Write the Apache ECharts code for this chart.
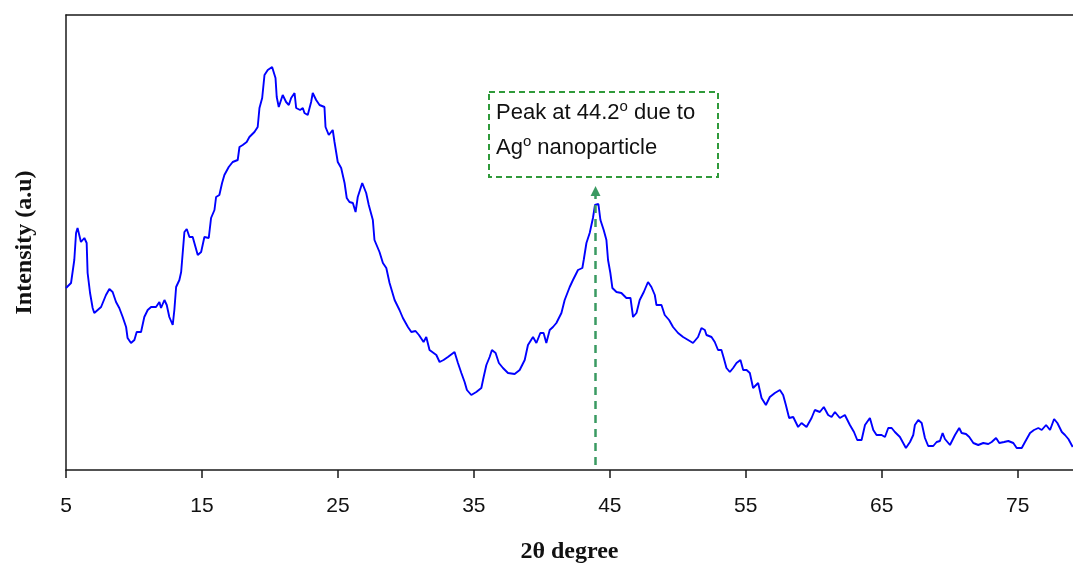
<!DOCTYPE html>
<html>
<head>
<meta charset="utf-8">
<title>XRD pattern</title>
<script src="https://cdn.jsdelivr.net/npm/echarts@6/dist/echarts.min.js"></script>
<style>
  html, body { margin: 0; padding: 0; background: #fff; }
  #chart { width: 1073px; height: 567px; }
</style>
</head>
<body>
<div id="chart"></div>
<script>
// 2θ positions (degree)
const twoTheta = [
  5.00, 5.37, 5.61, 5.74, 5.85, 6.10, 6.35, 6.52, 6.59, 6.77, 6.96, 7.08, 7.33, 7.58, 7.94, 8.19, 8.43, 8.68, 8.92, 9.17,
  9.42, 9.53, 9.78, 10.03, 10.20, 10.52, 10.76, 11.01, 11.26, 11.62, 11.87, 11.99, 12.24, 12.41, 12.60, 12.85, 12.97, 13.10, 13.34,
  13.47, 13.71, 13.88, 14.08, 14.32, 14.69, 14.94, 15.18, 15.50, 15.67, 15.92, 16.04, 16.28, 16.48, 16.65, 16.97, 17.26, 17.63, 17.76, 18.00,
  18.29, 18.49, 18.86, 19.10, 19.23, 19.43, 19.60, 19.84, 20.16, 20.41, 20.50, 20.65, 20.94, 21.19, 21.39, 21.56, 21.81, 21.93, 22.22, 22.42,
  22.54, 22.78, 23.03, 23.15, 23.40, 23.65, 24.01, 24.09, 24.33, 24.62, 24.75, 24.99, 25.24, 25.49, 25.65, 25.85, 26.10, 26.30, 26.46, 26.79,
  27.08, 27.27,
  27.57, 27.69, 28.06, 28.31, 28.56, 28.80, 29.17, 29.53, 29.78, 30.15, 30.40, 30.71, 30.96, 31.30, 31.50, 31.74, 32.24, 32.48, 32.77, 33.09,
  33.58, 33.83, 34.08, 34.32, 34.49, 34.81, 35.18, 35.55, 35.72, 35.92, 36.16, 36.33, 36.60, 36.84, 37.14, 37.51, 38.00, 38.37,
  38.74, 38.98, 39.35, 39.60, 39.89, 40.13, 40.33, 40.58, 40.82, 41.07, 41.44, 41.68, 42.05, 42.29, 42.66, 42.98, 43.08, 43.28, 43.52, 43.76,
  43.91, 44.16, 44.31, 44.55, 44.75, 44.87, 45.04, 45.19, 45.49, 45.85, 46.22, 46.52, 46.71, 46.96, 47.20, 47.50, 47.81, 48.06, 48.31, 48.43,
  48.80, 49.04, 49.36, 49.65, 50.02, 50.39, 50.76, 51.12, 51.49, 51.74, 51.99, 52.11, 52.48, 52.72,
  52.96, 53.21, 53.38, 53.58, 53.83, 54.07, 54.32, 54.61, 54.81, 55.06, 55.30, 55.54, 55.91, 56.16, 56.48, 56.77, 57.14, 57.51, 57.75, 57.95,
  58.19, 58.49, 58.85, 59.10, 59.47, 59.84, 60.08, 60.45, 60.74, 61.06, 61.31, 61.56, 61.92, 62.29, 62.66, 62.96, 63.20, 63.52, 63.77, 64.13,
  64.38, 64.62, 64.99,
  65.24, 65.48, 65.73, 65.97, 66.34, 66.58, 66.78, 67.08, 67.32, 67.44, 67.69, 67.94, 68.18, 68.42, 68.79, 69.04, 69.28, 69.48, 69.65, 70.02,
  70.39, 70.70, 70.88, 71.20, 71.44, 71.74, 72.10, 72.47, 72.84, 73.09, 73.41, 73.65, 74.00, 74.31, 74.68, 74.93, 75.30, 75.54, 75.91, 76.20,
  76.52, 76.77, 77.09, 77.38, 77.68, 77.92, 78.25, 78.48, 78.73, 79.05
]

// intensity (arbitrary units)
const intensity = [
  182, 187, 210, 237, 242, 228, 232, 227, 197, 177, 162, 157, 160, 163, 175, 181, 178, 168, 162, 153,
  143, 132, 127, 130, 138, 138, 153, 160, 163, 163, 168, 162, 170, 165, 153, 145, 160, 183, 190,
  198, 238, 241, 233, 233, 215, 218, 233, 232, 252, 260, 273, 275, 287, 295, 303, 308, 310, 323, 325,
  328, 333, 338, 343, 362, 372, 395, 400, 403, 392, 373, 363, 375, 368, 365, 372, 377, 362, 360, 362,
  357, 355, 368, 377, 370, 365, 363, 343, 335, 340, 328, 308, 302, 287, 272, 268, 267, 258, 273, 287,
  277, 265,
  250, 230, 218, 207, 202, 187, 170, 160, 152, 143, 138, 139, 135, 128, 133, 120, 115, 108, 110, 113,
  118, 107, 97, 88, 80, 75, 78, 82, 93, 105, 113, 120, 117, 107, 102, 97, 96, 100,
  110, 125, 133, 127, 137, 137, 127, 140, 143, 147, 157, 170, 183, 190, 200, 202, 210, 227, 237, 252,
  265, 266, 250, 240, 230, 210, 197, 182, 178, 177, 172, 172, 153, 157, 170, 178, 188, 183, 175, 165,
  165, 155, 150, 143, 137, 133, 130, 127, 133, 142, 140, 135, 133, 128,
  120, 120, 112, 102, 98, 102, 107, 110, 100, 100, 97, 82, 87, 72, 65, 73, 77, 80, 75, 65,
  52, 53, 43, 47, 43, 52, 60, 58, 63, 55, 53, 58, 52, 55, 45, 38, 30, 30, 45, 52,
  40, 35, 35,
  33, 42, 42, 38, 33, 27, 22, 28, 35, 45, 50, 47, 32, 24, 24, 28, 29, 37, 31, 25,
  35, 42, 37, 36, 33, 27, 25, 27, 26, 28, 32, 27, 28, 29, 27, 22, 22, 28, 37, 40,
  42, 40, 45, 40, 51, 47, 38, 35, 31, 23
]

const xTicks = [5, 15, 25, 35, 45, 55, 65, 75]

// Ag peak marker: x position, bottom and top of the arrow
const peakX = 43.95
const peakArrow = [5, 279]

const chart = echarts.init(document.getElementById('chart'))

const xMin = 5
const xMax = 79.07

const option = {
  animation: false,
  backgroundColor: '#fff',
  grid: {
    left: 66,
    right: 0,
    top: 15,
    bottom: 97,
    containLabel: false,
    outerBoundsMode: 'none'
  },
  xAxis: [{
    type: 'value',
    min: xMin,
    max: xMax,
    position: 'bottom',
    name: '2θ degree',
    nameLocation: 'middle',
    nameGap: 70,
    nameTextStyle: {
      fontFamily: 'Liberation Serif',
      fontWeight: 'bold',
      fontSize: 24,
      color: '#111'
    },
    axisLine: {
      onZero: false,
      lineStyle: { color: '#1a1a1a', width: 1.5 }
    },
    axisTick: {
      show: true,
      inside: false,
      length: 8,
      customValues: xTicks,
      lineStyle: { color: '#1a1a1a', width: 1.5 }
    },
    axisLabel: {
      customValues: xTicks,
      margin: 26,
      fontFamily: 'Liberation Sans',
      fontSize: 21,
      color: '#111'
    },
    splitLine: { show: false }
  }, {
    // top frame line
    type: 'value',
    min: xMin,
    max: xMax,
    position: 'top',
    axisLine: {
      onZero: false,
      lineStyle: { color: '#1a1a1a', width: 1.5 }
    },
    axisTick: { show: false },
    axisLabel: { show: false },
    splitLine: { show: false }
  }],
  yAxis: {
    type: 'value',
    min: 0,
    max: 455,
    name: 'Intensity (a.u)',
    nameLocation: 'middle',
    nameGap: 29,
    nameTextStyle: {
      fontFamily: 'Liberation Serif',
      fontWeight: 'bold',
      fontSize: 24,
      color: '#111'
    },
    axisLine: {
      show: true,
      onZero: false,
      lineStyle: { color: '#1a1a1a', width: 1.5 }
    },
    axisTick: { show: false },
    axisLabel: { show: false },
    splitLine: { show: false }
  },
  series: [{
    type: 'line',
    data: twoTheta.map((t, i) => [t, intensity[i]]),
    showSymbol: false,
    lineStyle: {
      color: '#0000ff',
      width: 1.9
    },
    markLine: {
      silent: true,
      symbol: ['none', 'triangle'],
      symbolSize: 10,
      label: { show: false },
      lineStyle: {
        color: '#3a9a62',
        width: 2.5,
        type: [8, 6]
      },
      itemStyle: { color: '#3a9a62' },
      data: [[
        { coord: [peakX, peakArrow[0]] },
        { coord: [peakX, peakArrow[1]] }
      ]]
    }
  }],
  graphic: [{
    type: 'rect',
    shape: { x: 489, y: 92, width: 229, height: 85 },
    style: {
      fill: 'none',
      stroke: '#2f9a3a',
      lineWidth: 2,
      lineDash: [6, 4]
    }
  }, {
    type: 'text',
    style: {
      x: 496,
      y: 95,
      text: '{n|Peak at 44.2}{sup|o}{n| due to}\n{n|Ag}{sup|o}{n| nanoparticle}',
      fill: '#111',
      rich: {
        n: {
          fontFamily: 'Liberation Sans',
          fontSize: 22,
          lineHeight: 35,
          color: '#111'
        },
        sup: {
          fontFamily: 'Liberation Sans',
          fontSize: 15,
          lineHeight: 20,
          verticalAlign: 'top',
          padding: [4, 0, 0, 0],
          color: '#111'
        }
      }
    }
  }]
}

chart.setOption(option)
</script>
</body>
</html>
